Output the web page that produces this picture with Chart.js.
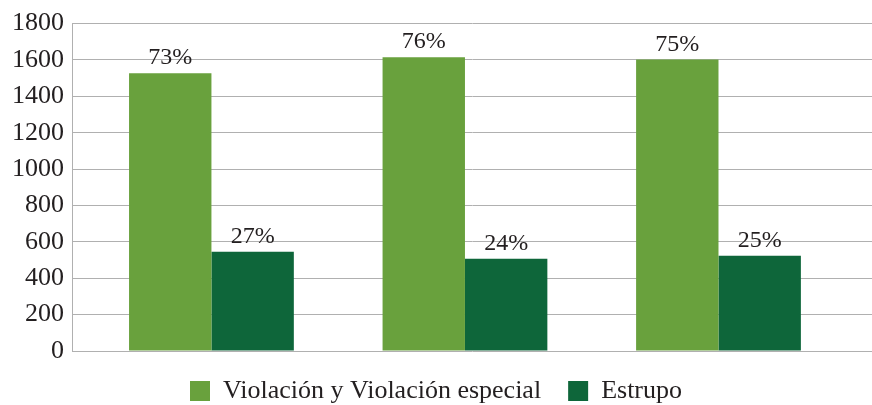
<!DOCTYPE html>
<html><head><meta charset="utf-8">
<script src="https://cdn.jsdelivr.net/npm/chart.js@4"></script>
<style>html,body{margin:0;padding:0;background:#fff}#wrap{width:872px;height:405px}</style>
</head><body><div id="wrap"><canvas id="c"></canvas></div>
<script>
const categories = ["Grupo 1", "Grupo 2", "Grupo 3"];
const seriesNames = ["Violación y Violación especial", "Estrupo"];
const violacion = [1527, 1615, 1602];
const estrupo = [545, 507, 524];
const violacionPct = ["73%", "76%", "75%"];
const estrupoPct = ["27%", "24%", "25%"];
const yTicks = [0, 200, 400, 600, 800, 1000, 1200, 1400, 1600, 1800];

const FONT = "'Liberation Serif', 'DejaVu Serif', serif";
const pctLabels = [violacionPct, estrupoPct];

const pctPlugin = {
  id: 'pct',
  afterDatasetsDraw(chart) {
    const ctx = chart.ctx;
    ctx.save();
    ctx.font = "24px " + FONT;
    ctx.fillStyle = "#231f20";
    ctx.textAlign = "center";
    ctx.textBaseline = "alphabetic";
    chart.data.datasets.forEach((ds, i) => {
      chart.getDatasetMeta(i).data.forEach((el, j) => {
        ctx.fillText(pctLabels[i][j], el.x, el.y - 9);
      });
    });
    ctx.restore();
  }
};

new Chart(document.getElementById('c'), {
  type: 'bar',
  data: {
    datasets: [
      { label: seriesNames[0], data: violacion.map((v, i) => ({x: i, y: v})), backgroundColor: '#69a13d' },
      { label: seriesNames[1], data: estrupo.map((v, i) => ({x: i, y: v})), backgroundColor: '#0e663a' }
    ]
  },
  options: {
    responsive: true,
    maintainAspectRatio: false,
    animation: false,
    categoryPercentage: 0.65,
    barPercentage: 1.0,
    layout: { padding: { top: 4, right: 0, left: 0, bottom: -9 } },
    plugins: {
      tooltip: { enabled: false },
      legend: {
        position: 'bottom',
        labels: {
          font: { family: FONT, size: 26 },
          color: '#231f20',
          boxWidth: 20,
          boxHeight: 20,
          padding: 27
        }
      }
    },
    scales: {
      x: {
        type: 'linear',
        min: -0.55,
        max: 2.6055,
        offset: false,
        display: false,
        afterBuildTicks: s => { s.ticks = categories.map((c, i) => ({value: i})); },
        grid: { display: false, offset: false }
      },
      y: {
        min: 0,
        max: 1800,
        afterBuildTicks: s => { s.ticks = yTicks.map(v => ({value: v})); },
        afterFit: s => { s.width = 72; },
        ticks: {
          font: { family: FONT, size: 26 },
          color: '#231f20',
          padding: 8,
          callback: v => String(v)
        },
        grid: { color: '#b0b0b0', lineWidth: 1, drawTicks: false },
        border: { display: true, color: '#b0b0b0' }
      }
    }
  },
  plugins: [pctPlugin]
});
</script></body></html>
